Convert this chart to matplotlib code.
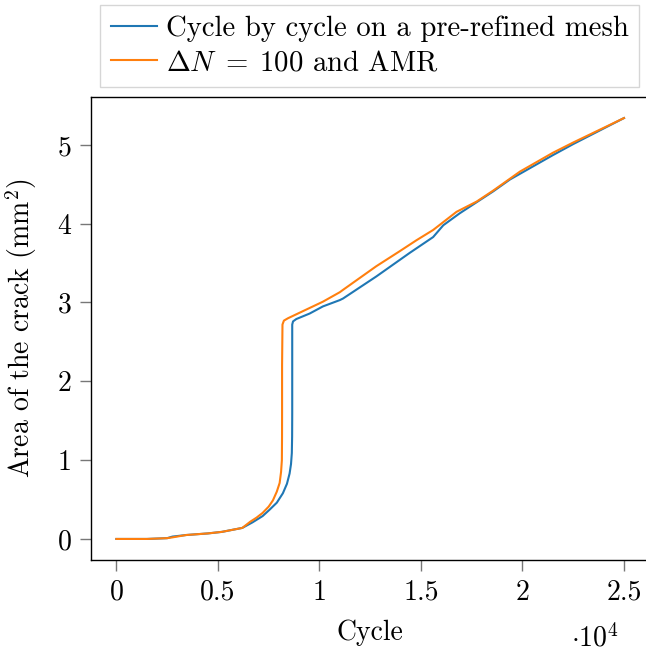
import matplotlib
matplotlib.use("Agg")
import matplotlib.pyplot as plt
from matplotlib.ticker import FuncFormatter

plt.rcParams["font.family"] = "serif"
plt.rcParams["font.serif"] = ["cmr10"]
plt.rcParams["mathtext.fontset"] = "cm"
plt.rcParams["axes.formatter.use_mathtext"] = True

# cycle by cycle on a pre-refined mesh
cyc_x = [0, 1500, 2500, 2760, 3440, 4500, 5200, 6200, 6700, 7200, 7540, 7900,
         8200, 8400, 8530, 8600, 8640, 8655, 8660, 8660, 8660, 8700, 8860,
         9520, 10170, 11000, 11160, 12800, 14450, 15600, 16100, 16900, 18560,
         19380, 21500, 22500, 25000]
cyc_y = [0, 0, 0.01, 0.03, 0.05, 0.07, 0.09, 0.14, 0.21, 0.29, 0.37, 0.46,
         0.58, 0.70, 0.83, 0.95, 1.09, 1.3, 1.6, 2.2, 2.72, 2.76, 2.79,
         2.86, 2.95, 3.03, 3.05, 3.33, 3.63, 3.83, 3.98, 4.13, 4.41,
         4.56, 4.87, 5.01, 5.34]

# delta N = 100 with AMR
amr_x = [0, 1500, 2500, 2760, 3440, 4500, 5200, 6200, 6600, 6900, 7200, 7500,
         7710, 7900, 8040, 8110, 8150, 8158, 8160, 8160, 8180, 8250, 8450,
         9350, 10170, 11000, 11160, 12800, 13950, 14780, 15600, 16750, 17740,
         18560, 19380, 19870, 21500, 22500, 25000]
amr_y = [0, 0, 0.01, 0.02, 0.05, 0.07, 0.09, 0.14, 0.22, 0.27, 0.33, 0.41,
         0.49, 0.60, 0.71, 0.85, 1.0, 1.3, 1.6, 2.2, 2.72, 2.77, 2.80,
         2.91, 3.01, 3.13, 3.16, 3.46, 3.65, 3.79, 3.92, 4.15, 4.28,
         4.42, 4.57, 4.66, 4.90, 5.03, 5.34]

x_ticks = [0, 5000, 10000, 15000, 20000, 25000]
y_ticks = [0, 1, 2, 3, 4, 5]

FS = 20
W, H = 646, 652
fig = plt.figure(figsize=(W / 100, H / 100), dpi=100)
ax = fig.add_axes([91 / W, 1 - 560 / H, 558.4 / W, 463 / H])

ax.plot(cyc_x, cyc_y, color="#1f77b4", lw=1.5, label="Cycle by cycle on a pre-refined mesh")
ax.plot(amr_x, amr_y, color="#ff7f0e", lw=1.5, label=r"$\Delta N \;=\; 100$ and AMR")

ax.set_xlim(-1250, 26250)
ax.set_ylim(-0.267, 5.607)
ax.set_xticks(x_ticks)
ax.set_yticks(y_ticks)
ax.xaxis.set_major_formatter(FuncFormatter(lambda v, p: "%g" % (v / 1e4)))
ax.yaxis.set_major_formatter(FuncFormatter(lambda v, p: "%g" % v))
ax.tick_params(direction="out", length=8, width=1, color="#777777",
               labelsize=FS, pad=6, top=False, right=False)
for s in ax.spines.values():
    s.set_linewidth(1)
ax.set_xlabel("Cycle", fontsize=FS, labelpad=10)
ax.set_ylabel(r"Area of the crack (mm$^2$)", fontsize=FS, labelpad=13)
ax.text(595 / W, 1 - 638 / H, r"$\cdot 10^4$", transform=fig.transFigure,
        fontsize=FS, ha="center", va="center")

leg = fig.legend(loc="upper left", bbox_to_anchor=(100 / W, 1 - 5 / H),
                 fontsize=20.7, frameon=True, fancybox=False, borderaxespad=0,
                 handlelength=1.6, handletextpad=0.3, borderpad=0.38,
                 labelspacing=0.27)
leg.get_frame().set_edgecolor("#cccccc")
leg.get_frame().set_linewidth(1)

fig.savefig("out.png", dpi=100)
